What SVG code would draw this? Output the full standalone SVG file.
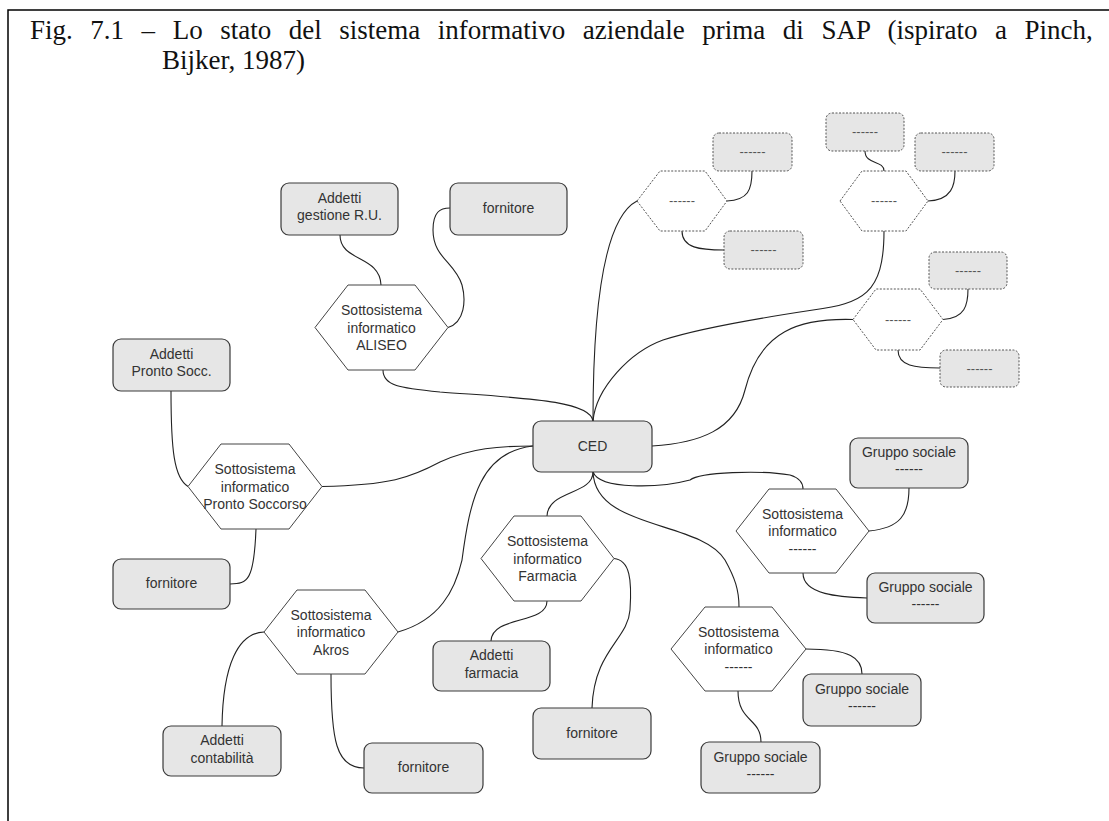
<svg xmlns="http://www.w3.org/2000/svg" width="1109" height="821" viewBox="0 0 1109 821">
  <style>
    .box { fill: #e6e6e6; stroke: #3a3a3a; stroke-width: 1.2; }
    .hex { fill: #ffffff; stroke: #444444; stroke-width: 1; }
    .dbox { fill: #e6e6e6; stroke: #555555; stroke-width: 1; stroke-dasharray: 2 1.5; }
    .dhex { fill: #ffffff; stroke: #555555; stroke-width: 1; stroke-dasharray: 2 1.5; }
    .lbl { font-family: "Liberation Sans", Arial, sans-serif; font-size: 14px; fill: #333333; text-anchor: middle; }
    .dl { font-size: 13px; fill: #555555; }
    .title { font-family: "Liberation Serif", "Times New Roman", serif; font-size: 27px; fill: #111111; }
    #connectors path { fill: none; stroke: #222222; stroke-width: 1.1; }
  </style>

  <rect width="1109" height="821" fill="#ffffff"/>

  <!-- frame -->
  <path d="M8,821 V10 H1109" fill="none" stroke="#000000" stroke-width="1.5"/>

  <!-- caption (justified first line: wide word gaps) -->
  <text class="title" x="30" y="39" word-spacing="10.8">Fig. 7.1 – Lo stato del sistema informativo aziendale prima di SAP (ispirato a Pinch,</text>
  <text class="title" x="162" y="69">Bijker, 1987)</text>

  <!-- connectors -->
  <g id="connectors">
    <path d="M593,421 C593,330 600,220 637,201"/>
    <path d="M383,370 C383,386 400,388 440,392 C520,398 590,400 593,421"/>
    <path d="M884,231 C884,295 862,303 813,310 C760,318 700,328 663,340 C630,352 596,388 593,421"/>
    <path d="M853,319.5 C800,318 760,330 745,390 C735,430 700,443 652,446"/>
    <path d="M448,327.5 C465,322 466,300 462,285 C455,262 433,258 433,230 C433,212 440,208 450,208"/>
    <path d="M340,235 C340,262 380,255 381,285"/>
    <path d="M171,391 C171,450 174,478 188,486.5"/>
    <path d="M256,529 C254,580 248,584 230,584"/>
    <path d="M322,486.5 C390,485 410,478 440,462 C470,448 500,446 533,446"/>
    <path d="M398,632 C440,620 455,590 462,560 C470,500 480,452 533,446"/>
    <path d="M264,632 C238,633 223,665 222,726"/>
    <path d="M331,674 C331,740 336,768 364,768"/>
    <path d="M593,472 C593,495 548,490 547,516"/>
    <path d="M614,558.5 C630,560 632,580 630,610 C628,640 594,650 592,708"/>
    <path d="M547,601 C547,625 492,615 491,641"/>
    <path d="M593,472 C595,530 700,520 725,560 C735,578 739,590 739,607"/>
    <path d="M593,472 C600,490 660,488 690,480 C700,472 760,470 790,475 C800,478 803,483 803,489"/>
    <path d="M869,531 C900,528 909,515 909,488"/>
    <path d="M803,573 C803,595 840,597 867,598"/>
    <path d="M806,649 C850,649 862,658 862,674"/>
    <path d="M738,691 C738,722 761,718 761,742"/>
    <path d="M727,201 C748,200 752,190 752,171"/>
    <path d="M682,231 C682,248 700,250 724,250"/>
    <path d="M865,151 C865,165 884,160 884,171"/>
    <path d="M928,201 C952,200 955,185 955,171"/>
    <path d="M943,319.5 C965,318 968,305 968,289"/>
    <path d="M898,350 C898,366 915,368 940,368"/>
  </g>

  <!-- central node -->
  <g id="ced">
    <rect class="box" x="533" y="421" width="119" height="51" rx="8"/>
    <text class="lbl" x="592.5" y="451">CED</text>
  </g>

  <!-- ALISEO subsystem -->
  <g id="aliseo">
    <polygon class="hex" points="315,327.5 348,285 415,285 448,327.5 415,370 348,370"/>
    <text class="lbl" x="381.5" y="315">Sottosistema</text>
    <text class="lbl" x="381.5" y="332.5">informatico</text>
    <text class="lbl" x="381.5" y="350">ALISEO</text>
  </g>
  <g id="addetti-ru">
    <rect class="box" x="281" y="183" width="117" height="52" rx="8"/>
    <text class="lbl" x="339.5" y="202.5">Addetti</text>
    <text class="lbl" x="339.5" y="220">gestione R.U.</text>
  </g>
  <g id="fornitore-aliseo">
    <rect class="box" x="450" y="183" width="117" height="52" rx="8"/>
    <text class="lbl" x="508.5" y="213">fornitore</text>
  </g>

  <!-- Pronto Soccorso subsystem -->
  <g id="pronto-soccorso">
    <polygon class="hex" points="188,486.5 221,444 289,444 322,486.5 289,529 221,529"/>
    <text class="lbl" x="255" y="474">Sottosistema</text>
    <text class="lbl" x="255" y="491.5">informatico</text>
    <text class="lbl" x="255" y="509">Pronto Soccorso</text>
  </g>
  <g id="addetti-ps">
    <rect class="box" x="113" y="339" width="117" height="52" rx="8"/>
    <text class="lbl" x="171.5" y="358.5">Addetti</text>
    <text class="lbl" x="171.5" y="376">Pronto Socc.</text>
  </g>
  <g id="fornitore-ps">
    <rect class="box" x="113" y="559" width="117" height="50" rx="8"/>
    <text class="lbl" x="171.5" y="588">fornitore</text>
  </g>

  <!-- Akros subsystem -->
  <g id="akros">
    <polygon class="hex" points="264,632 297,590 365,590 398,632 365,674 297,674"/>
    <text class="lbl" x="331" y="619.5">Sottosistema</text>
    <text class="lbl" x="331" y="637">informatico</text>
    <text class="lbl" x="331" y="654.5">Akros</text>
  </g>
  <g id="addetti-contabilita">
    <rect class="box" x="163" y="726" width="118" height="50" rx="8"/>
    <text class="lbl" x="222" y="745">Addetti</text>
    <text class="lbl" x="222" y="762.5">contabilità</text>
  </g>
  <g id="fornitore-akros">
    <rect class="box" x="364" y="743" width="119" height="50" rx="8"/>
    <text class="lbl" x="423.5" y="772">fornitore</text>
  </g>

  <!-- Farmacia subsystem -->
  <g id="farmacia">
    <polygon class="hex" points="481,558.5 514,516 581,516 614,558.5 581,601 514,601"/>
    <text class="lbl" x="547.5" y="546">Sottosistema</text>
    <text class="lbl" x="547.5" y="563.5">informatico</text>
    <text class="lbl" x="547.5" y="581">Farmacia</text>
  </g>
  <g id="addetti-farmacia">
    <rect class="box" x="433" y="641" width="117" height="50" rx="8"/>
    <text class="lbl" x="491.5" y="660">Addetti</text>
    <text class="lbl" x="491.5" y="677.5">farmacia</text>
  </g>
  <g id="fornitore-farmacia">
    <rect class="box" x="533" y="708" width="118" height="51" rx="8"/>
    <text class="lbl" x="592" y="737.5">fornitore</text>
  </g>

  <!-- generic subsystem, right -->
  <g id="sottosistema-destra">
    <polygon class="hex" points="736,531 769,489 836,489 869,531 836,573 769,573"/>
    <text class="lbl" x="802.5" y="518.5">Sottosistema</text>
    <text class="lbl" x="802.5" y="536">informatico</text>
    <text class="lbl" x="802.5" y="553.5">------</text>
  </g>
  <g id="gruppo-1">
    <rect class="box" x="850" y="438" width="118" height="50" rx="8"/>
    <text class="lbl" x="909" y="457">Gruppo sociale</text>
    <text class="lbl" x="909" y="474">------</text>
  </g>
  <g id="gruppo-2">
    <rect class="box" x="867" y="573" width="117" height="50" rx="8"/>
    <text class="lbl" x="925.5" y="592">Gruppo sociale</text>
    <text class="lbl" x="925.5" y="609">------</text>
  </g>

  <!-- generic subsystem, bottom -->
  <g id="sottosistema-basso">
    <polygon class="hex" points="671,649 705,607 772,607 806,649 772,691 705,691"/>
    <text class="lbl" x="738.5" y="636.5">Sottosistema</text>
    <text class="lbl" x="738.5" y="654">informatico</text>
    <text class="lbl" x="738.5" y="671.5">------</text>
  </g>
  <g id="gruppo-3">
    <rect class="box" x="803" y="674" width="118" height="52" rx="8"/>
    <text class="lbl" x="862" y="694">Gruppo sociale</text>
    <text class="lbl" x="862" y="711">------</text>
  </g>
  <g id="gruppo-4">
    <rect class="box" x="701" y="742" width="119" height="51" rx="8"/>
    <text class="lbl" x="760.5" y="761.5">Gruppo sociale</text>
    <text class="lbl" x="760.5" y="778.5">------</text>
  </g>

  <!-- undetermined subsystems (dashed outline) -->
  <g id="ignoto-a">
    <polygon class="dhex" points="637,201 660,171 705,171 727,201 705,231 660,231"/>
    <text class="lbl dl" x="682" y="205">------</text>
  </g>
  <g id="ignoto-a1">
    <rect class="dbox" x="713" y="133" width="79" height="38" rx="6"/>
    <text class="lbl dl" x="752.5" y="156">------</text>
  </g>
  <g id="ignoto-a2">
    <rect class="dbox" x="724" y="231" width="79" height="38" rx="6"/>
    <text class="lbl dl" x="763.5" y="254">------</text>
  </g>

  <g id="ignoto-b">
    <polygon class="dhex" points="840,201 862,171 906,171 928,201 906,231 862,231"/>
    <text class="lbl dl" x="884" y="205">------</text>
  </g>
  <g id="ignoto-b1">
    <rect class="dbox" x="826" y="113" width="78" height="38" rx="6"/>
    <text class="lbl dl" x="865" y="136">------</text>
  </g>
  <g id="ignoto-b2">
    <rect class="dbox" x="915" y="133" width="79" height="38" rx="6"/>
    <text class="lbl dl" x="954.5" y="156">------</text>
  </g>

  <g id="ignoto-c">
    <polygon class="dhex" points="853,319.5 876,289 920,289 943,319.5 920,350 876,350"/>
    <text class="lbl dl" x="898" y="323.5">------</text>
  </g>
  <g id="ignoto-c1">
    <rect class="dbox" x="929" y="252" width="78" height="37" rx="6"/>
    <text class="lbl dl" x="968" y="274.5">------</text>
  </g>
  <g id="ignoto-c2">
    <rect class="dbox" x="940" y="350" width="79" height="37" rx="6"/>
    <text class="lbl dl" x="979.5" y="372.5">------</text>
  </g>
</svg>
